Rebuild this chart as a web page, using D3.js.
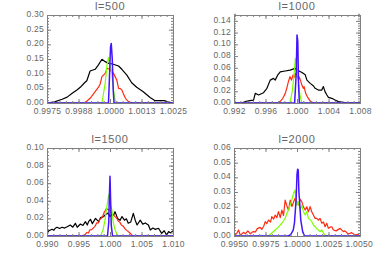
<!DOCTYPE html>
<html>
<head>
<meta charset="utf-8">
<script src="https://cdn.jsdelivr.net/npm/d3@7"></script>
<style>
  body { margin: 0; background: #fff; }
  text { font-family: "Liberation Sans", Arial, sans-serif; fill: #666; }
</style>
</head>
<body>
<div id="chart"></div>
<script>
// Histogram data, [x, frequency]
const black500 = [[0.9975,0],[0.9978,0.004],[0.9981,0.0126],[0.9983,0.02],[0.9985,0.033],[0.9987,0.045],[0.99882,0.0535],[0.999,0.07],[0.99908,0.076],[0.99921,0.109],[0.99941,0.115],[0.99954,0.13],[0.99968,0.149],[0.99981,0.141],[0.99994,0.135],[1.0001,0.133],[1.00034,0.126],[1.00047,0.115],[1.00067,0.095],[1.00086,0.069],[1.00106,0.0535],[1.00132,0.0385],[1.00159,0.019],[1.00179,0.008],[1.002,0.0085],[1.00215,0.008],[1.0023,0.004],[1.0025,0]];
const red500 = [[0.9975,0],[0.999,0],[0.99921,0.016],[0.99941,0.0385],[0.99955,0.055],[0.99961,0.065],[0.99968,0.0897],[0.99981,0.101],[0.99988,0.118],[1.0,0.115],[1.00007,0.105],[1.00014,0.101],[1.00027,0.078],[1.00034,0.05],[1.00041,0.049],[1.00047,0.044],[1.00061,0.016],[1.00074,0.004],[1.00087,0],[1.0025,0]];
const green500 = [[0.9975,0],[0.99968,0],[0.99981,0.068],[0.99988,0.129],[0.99994,0.155],[1.0,0.129],[1.00007,0.102],[1.00014,0.044],[1.0002,0.01],[1.00027,0],[1.0025,0]];
const blue500 = [[0.9975,0],[0.99994,0],[0.99998,0.09],[1.00002,0.19],[1.00005,0.203],[1.00009,0.15],[1.00013,0.04],[1.00016,0],[1.0025,0]];

const black1000 = [[0.992,0],[0.9928,0],[0.99343,0.0022],[0.994,0.004],[0.99448,0.005],[0.9947,0.0165],[0.99512,0.0136],[0.99575,0.0176],[0.99618,0.025],[0.9966,0.039],[0.99702,0.042],[0.99723,0.039],[0.99757,0.048],[0.99787,0.053],[0.9985,0.0545],[0.99913,0.056],[0.99977,0.059],[1.0002,0.055],[1.00063,0.052],[1.00105,0.048],[1.00126,0.039],[1.00168,0.0335],[1.0021,0.029],[1.0023,0.025],[1.00272,0.022],[1.00315,0.022],[1.00335,0.028],[1.00357,0.019],[1.0038,0.0136],[1.00399,0.0097],[1.00442,0.008],[1.00483,0.005],[1.00526,0.0023],[1.0061,0.0006],[1.00715,0],[1.008,0]];
const red1000 = [[0.992,0],[0.9975,0],[0.9979,0.003],[0.9982,0.008],[0.9985,0.016],[0.9987,0.025],[0.9989,0.036],[0.9991,0.045],[0.9993,0.039],[0.9995,0.048],[0.9997,0.044],[0.9998,0.05],[1.0,0.047],[1.0002,0.04],[1.0003,0.044],[1.0005,0.036],[1.0006,0.031],[1.0008,0.025],[1.0009,0.028],[1.0011,0.0165],[1.0013,0.011],[1.0016,0.005],[1.0018,0.002],[1.0021,0],[1.008,0]];
const green1000 = [[0.992,0],[0.9991,0],[0.9994,0.02],[0.9996,0.045],[0.9998,0.076],[1.0,0.06],[1.0002,0.035],[1.0004,0.012],[1.0006,0],[1.008,0]];
const blue1000 = [[0.992,0],[0.9997,0],[0.9999,0.05],[1.0,0.116],[1.0001,0.105],[1.0002,0.03],[1.0003,0],[1.008,0]];

const black1500 = [[0.99,0.0037],[0.9903,0.006],[0.9908,0.0076],[0.9911,0.0065],[0.9913,0.0088],[0.9916,0.0099],[0.992,0.0085],[0.9924,0.0099],[0.9928,0.009],[0.9932,0.0105],[0.9937,0.0125],[0.9941,0.01],[0.9945,0.0144],[0.9948,0.0099],[0.9953,0.0136],[0.9957,0.012],[0.9961,0.0163],[0.9964,0.0125],[0.9966,0.0163],[0.9969,0.019],[0.9972,0.014],[0.9977,0.02],[0.9982,0.0163],[0.9985,0.021],[0.999,0.022],[0.9993,0.0245],[0.9997,0.026],[1.0,0.022],[1.0003,0.0245],[1.0006,0.024],[1.0008,0.0276],[1.0012,0.02],[1.0016,0.0178],[1.0019,0.022],[1.0023,0.018],[1.0026,0.0195],[1.0029,0.0145],[1.0033,0.016],[1.0037,0.0258],[1.004,0.018],[1.0043,0.0125],[1.0048,0.018],[1.0052,0.0135],[1.0056,0.0148],[1.0061,0.0125],[1.0064,0.0068],[1.0068,0.009],[1.0072,0.0075],[1.0077,0.0088],[1.0082,0.003],[1.0086,0.006],[1.009,0.001],[1.0093,0.005],[1.0096,0.0035],[1.01,0.006]];
const red1500 = [[0.99,0],[0.9955,0],[0.99605,0.0015],[0.9963,0.004],[0.99658,0.0034],[0.9968,0.007],[0.9971,0.0072],[0.9974,0.0095],[0.99763,0.011],[0.9979,0.015],[0.99816,0.0148],[0.9984,0.019],[0.99868,0.0205],[0.99895,0.024],[0.9991,0.0275],[0.99921,0.028],[0.9994,0.031],[0.99958,0.0307],[0.9998,0.0295],[1.0,0.029],[1.0003,0.025],[1.00053,0.024],[1.0008,0.022],[1.00105,0.0205],[1.0013,0.017],[1.00158,0.0155],[1.0018,0.0125],[1.00211,0.011],[1.0024,0.008],[1.00263,0.0064],[1.0029,0.005],[1.00316,0.0034],[1.0034,0.0015],[1.00368,0],[1.01,0]];
const green1500 = [[0.99,0],[0.9985,0],[0.9989,0.007],[0.9992,0.018],[0.9995,0.033],[0.9998,0.047],[1.0,0.037],[1.0003,0.03],[1.0005,0.016],[1.0008,0.007],[1.0011,0.002],[1.0013,0],[1.01,0]];
const blue1500 = [[0.99,0],[0.9996,0],[0.9998,0.015],[0.9999,0.045],[1.0,0.068],[1.0001,0.04],[1.0002,0.012],[1.0004,0],[1.01,0]];

const red2000 = [[0.995,0],[0.99505,0.0009],[0.9952,0.0015],[0.99536,0.0041],[0.9955,0.0005],[0.99575,0.0025],[0.9959,0.0015],[0.9961,0.0035],[0.9963,0.0015],[0.9965,0.003],[0.9967,0.0028],[0.99685,0.005],[0.99708,0.0059],[0.9972,0.0045],[0.99735,0.0065],[0.99748,0.0098],[0.9976,0.0085],[0.99774,0.0109],[0.9979,0.0095],[0.998,0.0132],[0.99815,0.0115],[0.99827,0.0143],[0.9984,0.0125],[0.99853,0.0166],[0.99867,0.0125],[0.9988,0.0177],[0.99893,0.014],[0.99906,0.0245],[0.9992,0.0205],[0.99933,0.0175],[0.99946,0.0245],[0.9996,0.02],[0.99972,0.023],[0.99985,0.0257],[1.00011,0.0211],[1.00025,0.025],[1.00038,0.0234],[1.0005,0.02],[1.00065,0.0177],[1.00078,0.02],[1.0009,0.0165],[1.00104,0.02],[1.00117,0.0165],[1.0013,0.0143],[1.00144,0.012],[1.00157,0.012],[1.0017,0.0109],[1.00183,0.012],[1.00197,0.0087],[1.0021,0.0095],[1.00223,0.0063],[1.00236,0.0087],[1.00249,0.0052],[1.00263,0.006],[1.00276,0.0063],[1.00289,0.0041],[1.0031,0.0035],[1.00342,0.0052],[1.00368,0.003],[1.0038,0.0035],[1.00407,0.0014],[1.00434,0.0023],[1.0046,0.0007],[1.0048,0.0012],[1.005,0]];
const green2000 = [[0.995,0],[0.99774,0],[0.998,0.002],[0.99827,0.0041],[0.9985,0.0059],[0.9988,0.0087],[0.99906,0.0121],[0.9992,0.0155],[0.99932,0.0177],[0.99946,0.0211],[0.99959,0.0245],[0.99972,0.0291],[0.99985,0.0314],[0.99995,0.0211],[1.00011,0.0234],[1.00025,0.0177],[1.00038,0.0211],[1.00051,0.0166],[1.00065,0.0143],[1.00078,0.0166],[1.00091,0.012],[1.00105,0.011],[1.00118,0.0098],[1.0013,0.0075],[1.00144,0.0063],[1.00157,0.005],[1.0017,0.0041],[1.00183,0.003],[1.00197,0.0041],[1.0021,0.002],[1.00223,0.0007],[1.00249,0],[1.005,0]];
const blue2000 = [[0.995,0],[0.9993,0],[0.9995,0.001],[0.9997,0.004],[0.9998,0.009],[0.99993,0.025],[1.0,0.042],[1.00005,0.0455],[1.0001,0.045],[1.00015,0.03],[1.0002,0.0245],[1.0003,0.0109],[1.00045,0.003],[1.0006,0],[1.005,0]];

// Tick labels
const xLabels500 = ["0.9975", "0.9988", "1.0000", "1.0013", "1.0025"];
const xLabels1000 = ["0.992", "0.996", "1.000", "1.004", "1.008"];
const xLabels1500 = ["0.990", "0.995", "1.000", "1.005", "1.010"];
const xLabels2000 = ["0.9950", "0.9975", "1.0000", "1.0025", "1.0050"];
const yLabels500 = ["0.00", "0.05", "0.10", "0.15", "0.20", "0.25", "0.30"];
const yLabels1000 = ["0.00", "0.02", "0.04", "0.06", "0.08", "0.10", "0.12", "0.14"];
const yLabels1500 = ["0.00", "0.02", "0.04", "0.06", "0.08", "0.10"];
const yLabels2000 = ["0.00", "0.01", "0.02", "0.03", "0.04", "0.05", "0.06"];

const colors = { black: "#000000", red: "#ff2a10", green: "#7dff00", blue: "#4414ff" };

const panels = [
  { title: "l=500", x: [0.9975, 1.0025], y: [0, 0.30], yStep: 0.05, xl: xLabels500, yl: yLabels500,
    series: [[black500, "black"], [red500, "red"], [green500, "green"], [blue500, "blue"]], left: 47, top: 15 },
  { title: "l=1000", x: [0.992, 1.008], y: [0, 0.15], yStep: 0.02, xl: xLabels1000, yl: yLabels1000,
    series: [[black1000, "black"], [red1000, "red"], [green1000, "green"], [blue1000, "blue"]], left: 234, top: 15 },
  { title: "l=1500", x: [0.990, 1.010], y: [0, 0.10], yStep: 0.02, xl: xLabels1500, yl: yLabels1500,
    series: [[black1500, "black"], [red1500, "red"], [green1500, "green"], [blue1500, "blue"]], left: 47, top: 148 },
  { title: "l=2000", x: [0.995, 1.005], y: [0, 0.06], yStep: 0.01, xl: xLabels2000, yl: yLabels2000,
    series: [[red2000, "red"], [green2000, "green"], [blue2000, "blue"]], left: 234, top: 148 },
];

const width = 374, height = 267;
const pw = 126, ph = 88;
const axisColor = "#808080";

const svg = d3.select("#chart").append("svg")
  .attr("width", width)
  .attr("height", height);

panels.forEach((p, i) => {
  const g = svg.append("g").attr("transform", `translate(${p.left},${p.top})`);

  const x = d3.scaleLinear().domain(p.x).range([0, pw]);
  const y = d3.scaleLinear().domain(p.y).range([ph, 0]);

  const xMajor = d3.range(5).map((k) => p.x[0] + (k * (p.x[1] - p.x[0])) / 4);
  const xMinor = d3.range(21).map((k) => p.x[0] + (k * (p.x[1] - p.x[0])) / 20);
  const yMajor = p.yl.map((d, k) => k * p.yStep);
  const yMinor = d3.range(0, Math.round((p.y[1] / p.yStep) * 5) + 1).map((k) => (k * p.yStep) / 5);

  // clip for lines
  g.append("clipPath").attr("id", "clip" + i)
    .append("rect").attr("x", 0).attr("y", -1).attr("width", pw).attr("height", ph + 1);

  const line = d3.line().x((d) => x(d[0])).y((d) => y(d[1]));

  p.series.forEach(([data, c]) => {
    g.append("path")
      .datum(data)
      .attr("clip-path", `url(#clip${i})`)
      .attr("d", line)
      .attr("fill", "none")
      .attr("stroke", colors[c])
      .attr("stroke-width", c === "blue" ? 1.5 : 1.2)
      .attr("stroke-linejoin", "round");
  });

  // box axes, ticks pointing inwards
  const axes = [
    [d3.axisBottom(x), `translate(0,${ph})`, true],
    [d3.axisTop(x), "translate(0,0)", false],
  ];
  axes.forEach(([ax, tr, labels]) => {
    g.append("g").attr("transform", tr)
      .call(ax.tickValues(xMinor).tickSize(-2).tickFormat(""))
      .call((s) => s.select(".domain").remove());
    const a = g.append("g").attr("transform", tr)
      .call(ax.tickValues(xMajor).tickSize(-4).tickPadding(labels ? 4.6 : 0)
        .tickFormat((d, k) => (labels ? p.xl[k] : "")));
    a.select(".domain").attr("stroke", axisColor);
  });

  const yAxes = [
    [d3.axisLeft(y), "translate(0,0)", true],
    [d3.axisRight(y), `translate(${pw},0)`, false],
  ];
  yAxes.forEach(([ax, tr, labels]) => {
    g.append("g").attr("transform", tr)
      .call(ax.tickValues(yMinor).tickSize(-2).tickFormat(""))
      .call((s) => s.select(".domain").remove());
    const a = g.append("g").attr("transform", tr)
      .call(ax.tickValues(yMajor).tickSize(-4).tickPadding(labels ? 3 : 0)
        .tickFormat((d, k) => (labels ? p.yl[k] : "")));
    a.select(".domain").attr("stroke", axisColor);
    if (labels) a.selectAll(".tick text").attr("dy", "0.18em");
  });

  g.selectAll(".tick line").attr("stroke", axisColor);
  g.selectAll(".tick text")
    .attr("fill", "#666")
    .style("font-size", "8.5px")
    .style("letter-spacing", "0.25px")
    .style("font-family", "'Liberation Sans', Arial, sans-serif");

  g.append("text")
    .attr("x", pw / 2)
    .attr("y", -5)
    .attr("text-anchor", "middle")
    .style("font-size", "11px")
    .style("letter-spacing", "0.6px")
    .attr("fill", "#777")
    .text(p.title);
});

// keep labels at the right edge inside the window
svg.selectAll(".tick text").each(function () {
  const r = this.getBoundingClientRect();
  if (r.right > width - 1) {
    d3.select(this).attr("dx", -(r.right - (width - 1)));
  }
});
</script>
</body>
</html>
